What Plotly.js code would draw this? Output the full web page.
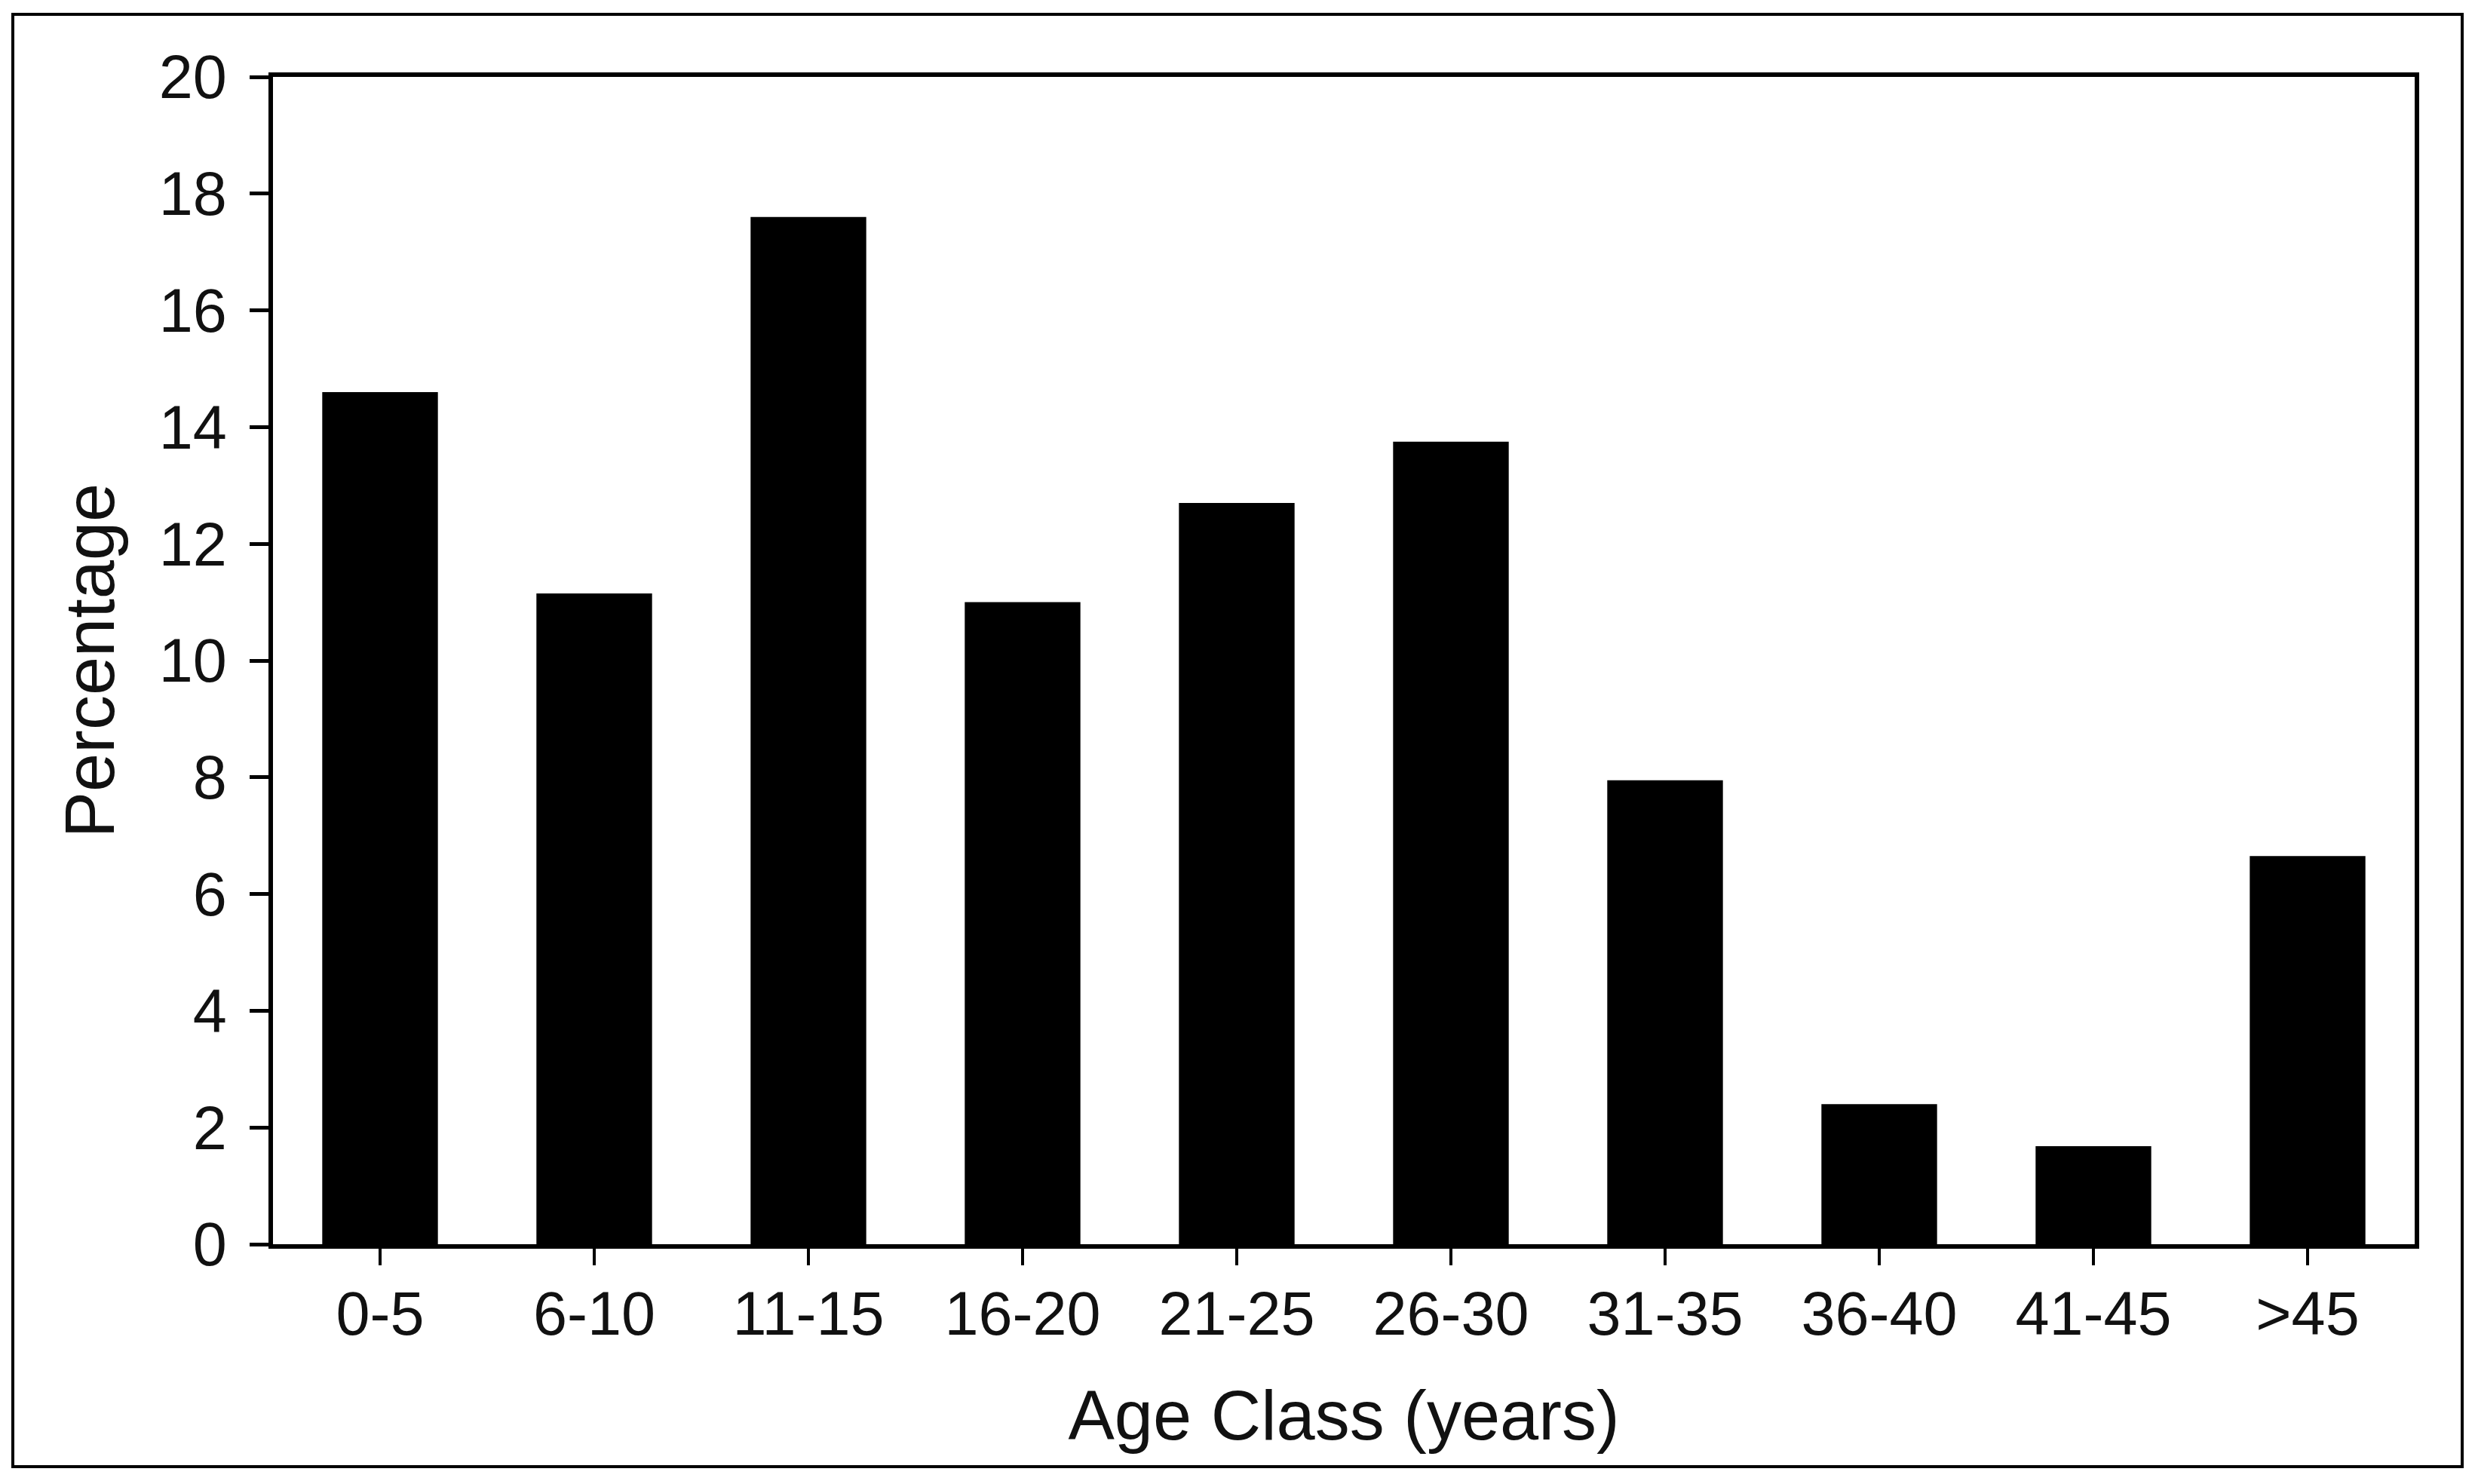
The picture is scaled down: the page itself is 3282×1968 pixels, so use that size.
<!DOCTYPE html>
<html>
<head>
<meta charset="utf-8">
<script src="https://cdn.plot.ly/plotly-3.0.1.min.js"></script>
<style>
  html, body { margin: 0; padding: 0; background: #ffffff; width: 3282px; height: 1968px; overflow: hidden; }
  #frame { position: absolute; left: 15px; top: 17px; width: 3252px; height: 1930px; box-sizing: border-box; border: 5px solid #000000; background: #ffffff; }
  #chart { position: absolute; left: -1px; top: -1px; width: 3244px; height: 1922px; }
</style>
</head>
<body>
<div id="frame"><div id="chart"></div></div>
<script>
// Data
const categories = ['0-5', '6-10', '11-15', '16-20', '21-25', '26-30', '31-35', '36-40', '41-45', '>45'];
const percentages = [14.6, 11.15, 17.6, 11.0, 12.7, 13.75, 7.95, 2.4, 1.68, 6.65];
const yTickValues = [0, 2, 4, 6, 8, 10, 12, 14, 16, 18, 20];
const xAxisTitle = 'Age Class (years)';
const yAxisTitle = 'Percentage';

const fontFamily = '"Liberation Sans", Arial, Helvetica, sans-serif';

const trace = {
  type: 'bar',
  x: categories,
  y: percentages,
  marker: { color: '#000000', line: { width: 0 } },
  hoverinfo: 'x+y'
};

const layout = {
  width: 3244,
  height: 1922,
  margin: { l: 343, r: 61, t: 81, b: 293, pad: 0 },
  paper_bgcolor: '#ffffff',
  plot_bgcolor: '#ffffff',
  showlegend: false,
  bargap: 0.46,
  font: { family: fontFamily, color: '#000000' },
  xaxis: {
    type: 'category',
    categoryorder: 'array',
    categoryarray: categories,
    showline: true,
    linecolor: '#000000',
    linewidth: 6,
    mirror: true,
    ticks: 'outside',
    ticklen: 22,
    tickwidth: 4,
    tickcolor: '#000000',
    showgrid: false,
    zeroline: false,
    tickfont: { family: fontFamily, size: 81, color: '#111111' },
    ticklabelstandoff: -5,
    automargin: false,
    title: { text: xAxisTitle, font: { family: fontFamily, size: 92, color: '#111111' }, standoff: 60 }
  },
  yaxis: {
    range: [0, 20],
    tickmode: 'array',
    tickvals: yTickValues,
    ticktext: yTickValues.map(String),
    showline: true,
    linecolor: '#000000',
    linewidth: 6,
    mirror: true,
    ticks: 'outside',
    ticklen: 25,
    tickwidth: 5,
    tickcolor: '#000000',
    showgrid: false,
    zeroline: false,
    tickfont: { family: fontFamily, size: 81, color: '#111111' },
    ticklabelstandoff: 14,
    automargin: false,
    title: { text: yAxisTitle, font: { family: fontFamily, size: 92, color: '#111111' }, standoff: 30 }
  }
};

Plotly.newPlot('chart', [trace], layout, { staticPlot: true, displayModeBar: false });
</script>
</body>
</html>
